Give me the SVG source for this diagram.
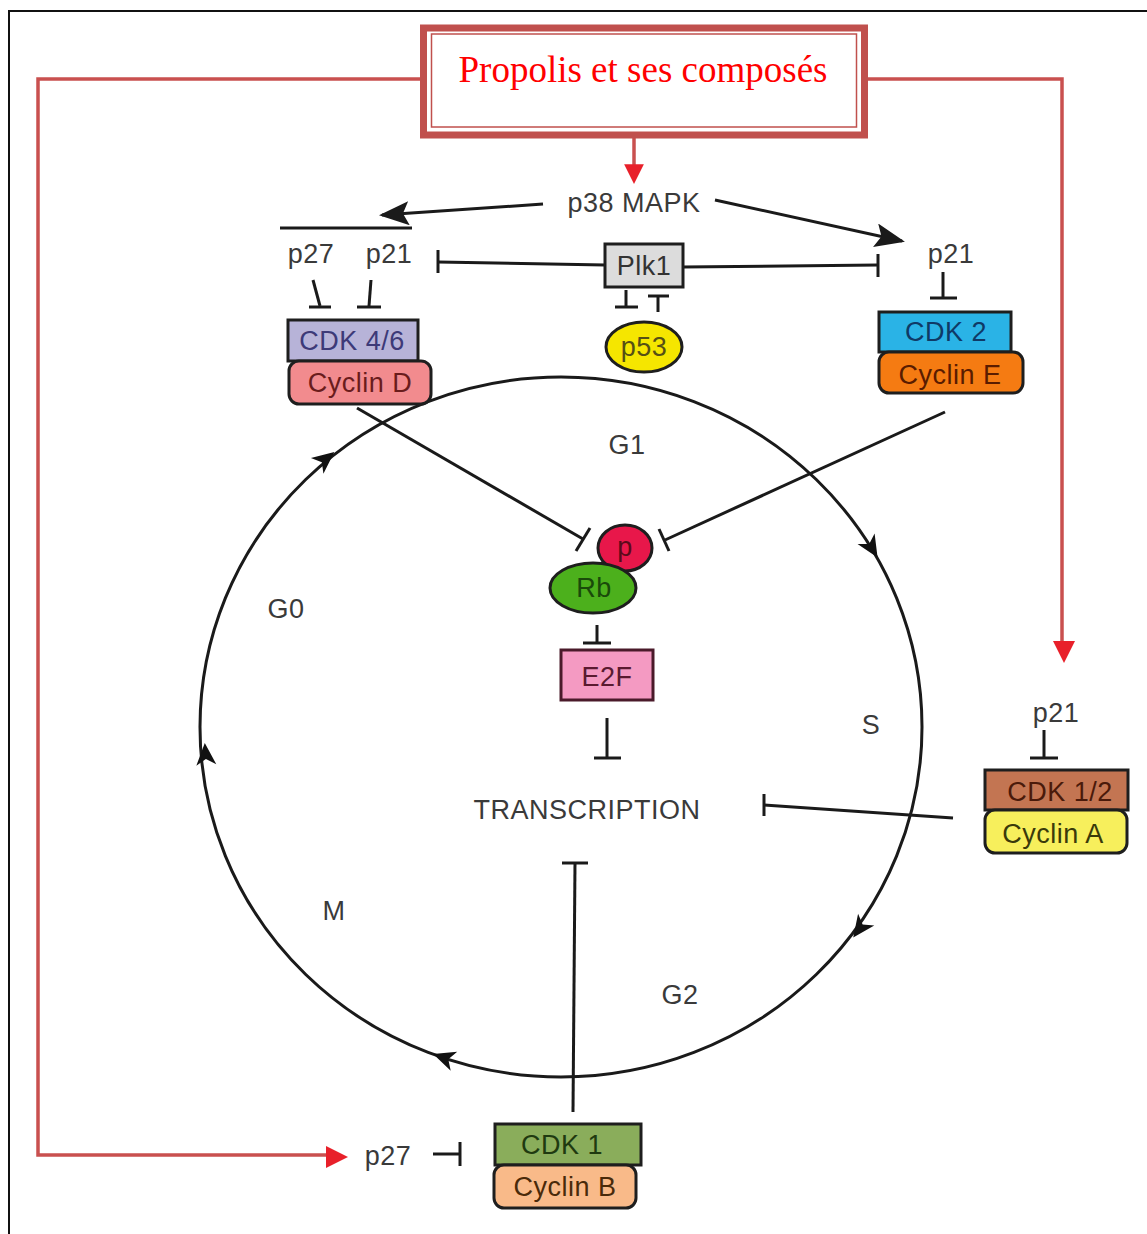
<svg xmlns="http://www.w3.org/2000/svg" xmlns:xlink="http://www.w3.org/1999/xlink" width="1147" height="1234" viewBox="0 0 1147 1234">
<style>
.lbl{font-family:"Liberation Sans",Arial,sans-serif;font-size:27px;letter-spacing:0.5px;fill:#3a3a3a;text-anchor:middle}
.blk{stroke:#1a1a1a;stroke-width:3;fill:none;stroke-linecap:butt}
.red{stroke:#c9504f;stroke-width:3.5;fill:none}
.box{stroke:#1e1e1e;stroke-width:3}
</style>
<defs>
<marker id="arr" markerWidth="10" markerHeight="8" refX="9" refY="4" orient="auto" markerUnits="strokeWidth" viewBox="0 0 10 8">
<path d="M0,0 L10,4 L0,8 L2,4 Z" fill="#1a1a1a"/>
</marker>
<path id="ah" d="M3,0 L-19,-10 L-13,0 L-19,10 Z" fill="#111"/>
<path id="rah" d="M0,0 L-22,-11 L-22,11 Z" fill="#e8202a"/>
</defs>

<g id="frame">
<line x1="8" y1="11" x2="1147" y2="11" stroke="#111" stroke-width="2"/>
<line x1="9" y1="11" x2="9" y2="1234" stroke="#111" stroke-width="2"/>
</g>

<g id="connectors">
<polyline class="red" points="420,79 38,79 38,1155 328,1155"/>
<use xlink:href="#rah" transform="translate(348,1157)"/>
<polyline class="red" points="868,79 1062,79 1062,642"/>
<use xlink:href="#rah" transform="translate(1064,663) rotate(90)"/>
<line class="red" x1="634" y1="138" x2="634" y2="166"/>
<use xlink:href="#rah" transform="translate(634,184) rotate(90) scale(0.9)"/>

<ellipse cx="561" cy="727" rx="361" ry="350" class="blk"/>
<use xlink:href="#ah" transform="translate(332,454) rotate(-38.7)"/>
<use xlink:href="#ah" transform="translate(205,746) rotate(-94)"/>
<use xlink:href="#ah" transform="translate(876,555) rotate(58.5)"/>
<use xlink:href="#ah" transform="translate(855,935) rotate(126)"/>
<use xlink:href="#ah" transform="translate(436,1055) rotate(199)"/>

<line class="blk" x1="543" y1="204" x2="382" y2="215" marker-end="url(#arr)"/>
<line class="blk" x1="715" y1="200" x2="902" y2="241" marker-end="url(#arr)"/>
<line class="blk" x1="280" y1="228" x2="412" y2="228"/>

<line class="blk" x1="313" y1="280" x2="320" y2="306"/>
<line class="blk" x1="309" y1="307" x2="331" y2="307"/>
<line class="blk" x1="371" y1="280" x2="369" y2="306"/>
<line class="blk" x1="357" y1="307" x2="381" y2="307"/>

<line class="blk" x1="605" y1="265" x2="438" y2="262"/>
<line class="blk" x1="438" y1="250" x2="438" y2="273"/>
<line class="blk" x1="683" y1="267" x2="878" y2="265"/>
<line class="blk" x1="878" y1="254" x2="878" y2="277"/>
<line class="blk" x1="626" y1="290" x2="626" y2="307"/>
<line class="blk" x1="615" y1="307" x2="638" y2="307"/>
<line class="blk" x1="648" y1="296" x2="669" y2="296"/>
<line class="blk" x1="658" y1="296" x2="658" y2="312"/>

<line class="blk" x1="943" y1="272" x2="943" y2="298"/>
<line class="blk" x1="930" y1="298" x2="957" y2="298"/>

<line class="blk" x1="357" y1="408" x2="583" y2="539"/>
<line class="blk" x1="576" y1="551" x2="590" y2="528"/>
<line class="blk" x1="945" y1="412" x2="665" y2="540"/>
<line class="blk" x1="659" y1="529" x2="669" y2="551"/>

<line class="blk" x1="597" y1="625" x2="597" y2="643"/>
<line class="blk" x1="583" y1="643" x2="611" y2="643"/>

<line class="blk" x1="607" y1="718" x2="607" y2="758"/>
<line class="blk" x1="594" y1="758" x2="621" y2="758"/>

<line class="blk" x1="1044" y1="730" x2="1044" y2="758"/>
<line class="blk" x1="1030" y1="758" x2="1058" y2="758"/>

<path class="blk" d="M953,818 Q860,812 764,805"/>
<line class="blk" x1="764" y1="794" x2="764" y2="816"/>

<line class="blk" x1="573" y1="1112" x2="575" y2="863"/>
<line class="blk" x1="562" y1="863" x2="588" y2="863"/>

<line class="blk" x1="433" y1="1154" x2="460" y2="1154"/>
<line class="blk" x1="460" y1="1142" x2="460" y2="1166"/>
</g>

<g id="title">
<rect x="423.5" y="28" width="441" height="107" fill="#fff" stroke="#c0504d" stroke-width="7"/>
<rect x="431.5" y="34" width="425" height="93" fill="none" stroke="#c0504d" stroke-width="1.5"/>
<text x="643" y="82" font-family="'Liberation Serif','Times New Roman',serif" font-size="37" fill="#ff0000" text-anchor="middle">Propolis et ses composés</text>
</g>

<g id="p38"><text class="lbl" x="634" y="212">p38 MAPK</text></g>
<g id="p27a"><text class="lbl" x="311" y="263">p27</text></g>
<g id="p21a"><text class="lbl" x="389" y="263">p21</text></g>
<g id="p21b"><text class="lbl" x="951" y="263">p21</text></g>

<g id="plk1">
<rect class="box" x="605" y="244" width="78" height="43" fill="#dcdcdc"/>
<text class="lbl" x="644" y="275" style="fill:#333">Plk1</text>
</g>
<g id="p53">
<ellipse class="box" cx="644" cy="347" rx="38" ry="25" fill="#f5e600"/>
<text class="lbl" x="644" y="356" style="fill:#555015">p53</text>
</g>

<g id="cdk46">
<rect class="box" x="288" y="320" width="130" height="41" fill="#b7b3d8"/>
<text class="lbl" x="352" y="350" style="fill:#3d3a78">CDK 4/6</text>
</g>
<g id="cyclinD">
<rect class="box" x="289" y="361" width="142" height="43" rx="10" fill="#f28b8e"/>
<text class="lbl" x="360" y="392" style="fill:#6a1c1c">Cyclin D</text>
</g>

<g id="cdk2">
<rect class="box" x="879" y="312" width="132" height="40" fill="#2ab3e6"/>
<text class="lbl" x="946" y="341" style="fill:#0f3a66">CDK 2</text>
</g>
<g id="cyclinE">
<rect class="box" x="879" y="352" width="144" height="41" rx="10" fill="#f57b12"/>
<text class="lbl" x="950" y="384" style="fill:#5a1c00">Cyclin E</text>
</g>

<g id="p">
<ellipse class="box" cx="625" cy="548" rx="27" ry="23" fill="#e8174a"/>
<text class="lbl" x="625" y="556" style="fill:#5a0a1a">p</text>
</g>
<g id="Rb">
<ellipse class="box" cx="593" cy="588" rx="43" ry="25" fill="#4cb01c"/>
<text class="lbl" x="594" y="597" style="fill:#1a4a0a">Rb</text>
</g>
<g id="E2F">
<rect x="561" y="650" width="92" height="50" fill="#f49ac2" stroke="#4a1a2a" stroke-width="3"/>
<text class="lbl" x="607" y="686" style="fill:#5a1a30">E2F</text>
</g>

<g id="transcription"><text class="lbl" x="587" y="819">TRANSCRIPTION</text></g>

<g id="phases">
<text class="lbl" x="627" y="454">G1</text>
<text class="lbl" x="286" y="618">G0</text>
<text class="lbl" x="871" y="734">S</text>
<text class="lbl" x="334" y="920">M</text>
<text class="lbl" x="680" y="1004">G2</text>
</g>

<g id="p21c"><text class="lbl" x="1056" y="722">p21</text></g>
<g id="cdk12">
<rect class="box" x="985" y="770" width="143" height="40" fill="#c37552"/>
<text class="lbl" x="1060" y="801" style="fill:#4a1a0a">CDK 1/2</text>
</g>
<g id="cyclinA">
<rect class="box" x="985" y="810" width="142" height="43" rx="10" fill="#f7ef5c"/>
<text class="lbl" x="1053" y="843" style="fill:#3a3a0a">Cyclin A</text>
</g>

<g id="p27b"><text class="lbl" x="388" y="1165">p27</text></g>
<g id="cdk1">
<rect class="box" x="495" y="1124" width="146" height="41" fill="#8aad5b"/>
<text class="lbl" x="562" y="1154" style="fill:#1f3a10">CDK 1</text>
</g>
<g id="cyclinB">
<rect class="box" x="494" y="1165" width="142" height="43" rx="10" fill="#f9ba89"/>
<text class="lbl" x="565" y="1196" style="fill:#4a2a0a">Cyclin B</text>
</g>
</svg>
